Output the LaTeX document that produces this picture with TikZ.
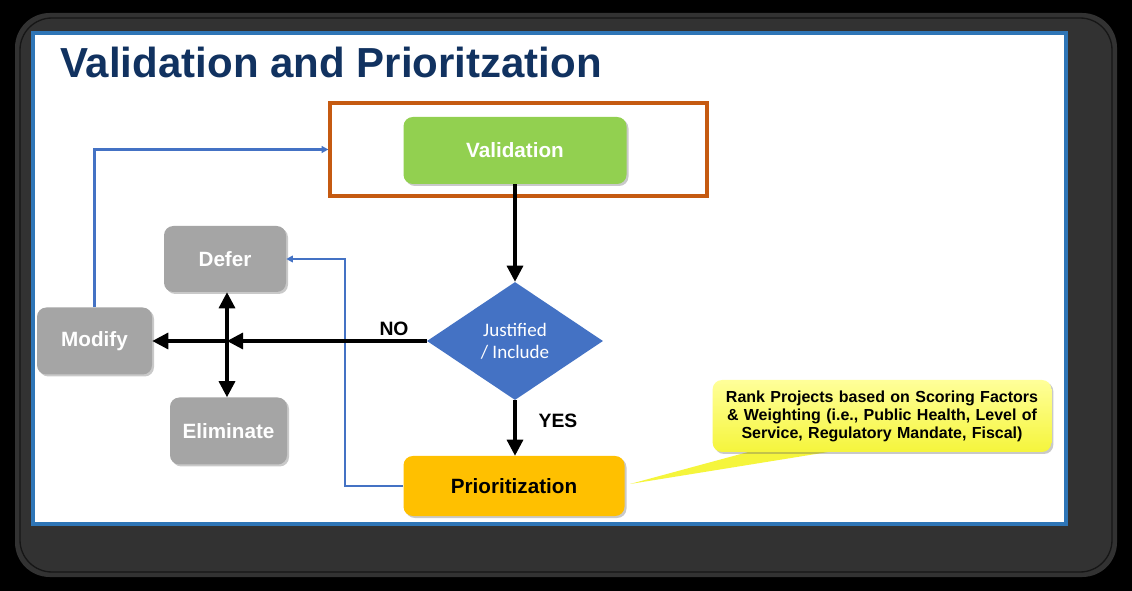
\documentclass[tikz,border=0pt]{standalone}
\usepackage{fontspec}
\setmainfont{Liberation Sans}
\newfontfamily\calibri{Carlito}
\usetikzlibrary{arrows.meta,shapes.geometric,shadows,calc}
\definecolor{navy}{RGB}{17,50,96}
\definecolor{valgreen}{RGB}{146,208,80}
\definecolor{diablue}{RGB}{68,114,196}
\definecolor{frameorange}{RGB}{197,90,17}
\definecolor{boxgray}{RGB}{165,165,165}
\definecolor{prioyellow}{RGB}{255,192,0}
\definecolor{panelblue}{RGB}{46,117,182}
\definecolor{darkframe}{RGB}{50,50,50}
\definecolor{callyellow}{RGB}{255,255,110}
\definecolor{callyellowdark}{RGB}{245,245,60}
\tikzset{
  boxshadow/.style={drop shadow={opacity=0.35,shadow xshift=1.5pt,shadow yshift=-1.5pt,fill=black!60}},
  procbox/.style={rectangle,rounded corners=7pt,draw=none,boxshadow,
    font=\fontsize{15.5}{18}\selectfont\bfseries,inner sep=0pt},
  graybox/.style={procbox,fill=boxgray,text=white},
  blackarrow/.style={line width=2.4pt,-{Triangle[length=12pt,width=12pt]}},
  bluearrow/.style={draw=diablue,line width=1.6pt,-{Triangle[length=5pt,width=5pt]}},
  lbl/.style={font=\fontsize{14.5}{17}\selectfont\bfseries,inner sep=0pt},
}
\begin{document}
\begin{tikzpicture}[x=0.75pt,y=-0.75pt]
\useasboundingbox (0,0) rectangle (1132,591);
\fill[black] (0,0) rectangle (1132,591);
% outer dark frame
\fill[darkframe,rounded corners=26pt] (15,13) rectangle (1117,577);
\draw[black!55!darkframe,line width=1pt,rounded corners=24pt] (20,18) rectangle (1112,572);
% white panel with blue border
\draw[panelblue,line width=2.4pt,fill=white] (33,33) rectangle (1066,524);
% title
\node[anchor=base west,inner sep=0pt,text=navy,font=\fontsize{31.5}{36}\selectfont\bfseries] (title) at (60,78) {Validation and Prioritzation};

% orange frame
\node[draw=frameorange,line width=2.4pt,minimum width=282.75pt,minimum height=69.75pt,inner sep=0pt] (valframe) at (518.5,149.5) {};
% nodes
\node[procbox,fill=valgreen,text=white,minimum width=167.25pt,minimum height=50.25pt] (validation) at (515,150.5) {Validation};
\node[diamond,fill=diablue,text=white,minimum width=132pt,minimum height=88.5pt,inner sep=0pt,align=center,
  font=\calibri\fontsize{14.3}{16.5}\selectfont] (justified) at (515,341) {Justified\\/ Include};
\node[procbox,fill=prioyellow,text=black,minimum width=165.75pt,minimum height=45pt] (prio) at (514,486) {Prioritization};
\node[graybox,minimum width=91.5pt,minimum height=49.5pt] (defer) at (225,259) {Defer};
\node[graybox,minimum width=86.25pt,minimum height=50.25pt] (modify) at (94.5,341) {Modify};
\node[graybox,minimum width=87.75pt,minimum height=50.25pt] (eliminate) at (228.5,431) {Eliminate};

% callout
\coordinate (tip) at (630,484);
\fill[callyellowdark] (763,448) -- (tip) -- (853,448) -- cycle;
\node[rectangle,rounded corners=7pt,top color=callyellow!70!white,bottom color=callyellowdark,draw=none,
  boxshadow,minimum width=254pt,minimum height=54pt,inner sep=0pt,align=center,text width=250pt,
  font=\fontsize{12}{13.5}\selectfont\bfseries] (callout) at (882,416)
  {Rank Projects based on Scoring Factors\\ \& Weighting (i.e., Public Health, Level of\\ Service, Regulatory Mandate, Fiscal)};

% blue connectors
\coordinate (cross) at (227,341);
\draw[bluearrow] (modify.north) -- (modify.north |- valframe.west) -- (valframe.west);
\draw[bluearrow] (prio.west) -- ++(-58,0) coordinate (pc) -- (pc |- defer.east) -- (defer.east);

% black connectors
\draw[blackarrow] (validation.south -| justified.north) -- (justified.north);
\draw[blackarrow] (justified.south) -- (prio.north -| justified.south);
\draw[blackarrow] (justified.west) -- (cross);
\draw[blackarrow] (cross) -- (modify.east);
\draw[line width=2.4pt,{Triangle[length=12pt,width=12pt]}-{Triangle[length=12pt,width=12pt]}] (defer.south -| cross) -- (eliminate.north -| cross);

% labels
\node[lbl] (no) at (394,329) {NO};
\node[lbl] (yes) at (558,421) {YES};
\end{tikzpicture}
\end{document}
